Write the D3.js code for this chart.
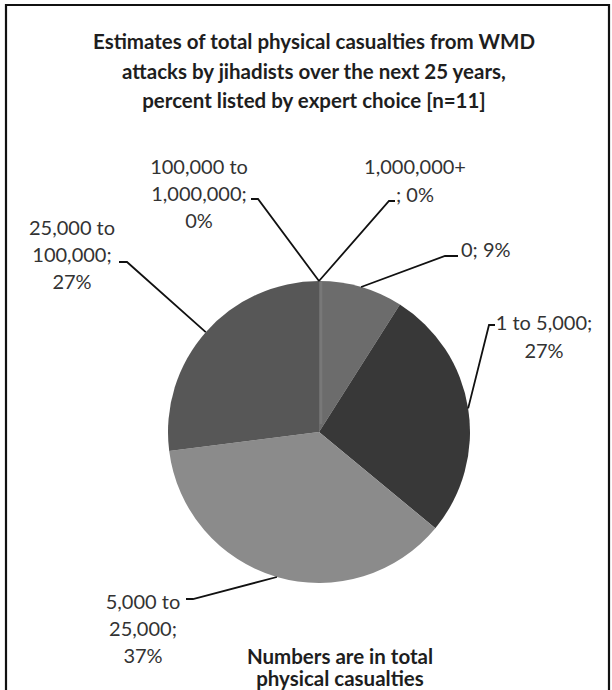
<!DOCTYPE html>
<html><head><meta charset="utf-8">
<script src="https://cdn.jsdelivr.net/npm/d3@7/dist/d3.min.js"></script>
<style>body{margin:0;background:#fff}svg{display:block}</style>
</head><body>
<svg id="chart" width="612" height="690"></svg>
<script>
// ---- data ----
const categories = ["0", "1 to 5,000", "5,000 to 25,000", "25,000 to 100,000", "100,000 to 1,000,000", "1,000,000+"];
const percents = [9, 27, 37, 27, 0, 0];
const labelLines = [
  ["0; 9%"],
  ["1 to 5,000;", "27%"],
  ["5,000 to", "25,000;", "37%"],
  ["25,000 to", "100,000;", "27%"],
  ["100,000 to", "1,000,000;", "0%"],
  ["1,000,000+", "; 0%"]
];
const titleLines = ["Estimates of total physical casualties from WMD", "attacks by jihadists over the next 25 years,", "percent listed by expert choice [n=11]"];
const noteLines = ["Numbers are in total", "physical casualties"];

// ---- layout / style ----
const W = 612, H = 690;
const cx = 319, cy = 432, R = 151;
const colors = ["#6c6c6c", "#383838", "#8b8b8b", "#575757", "#7a7a7a", "#7a7a7a"];
const labelFont = "Lato, 'Open Sans', sans-serif";
const labelLayout = [
  {x: 461, y: 257, lh: 27, anchor: "start", elbow: [445, 256], stub: [458, 256]},
  {x: 544, y: 330, lh: 28, anchor: "middle", elbow: [489, 325], stub: [495, 325]},
  {x: 143, y: 609, lh: 27, anchor: "middle", elbow: [193, 599], stub: [186, 599]},
  {x: 72,  y: 235, lh: 27, anchor: "middle", elbow: [127, 262], stub: [119, 262]},
  {x: 199, y: 174, lh: 27, anchor: "middle", elbow: [258, 199], stub: [251, 199]},
  {x: 415, y: 174, lh: 28, anchor: "middle", elbow: [389, 201], stub: [395, 201]}
];

const svg = d3.select("#chart");
svg.append("rect").attr("width", W).attr("height", H).attr("fill", "#fff");

// frame
const frame = d3.path();
frame.moveTo(6, H); frame.lineTo(6, 5); frame.lineTo(609, 5); frame.lineTo(609, H);
svg.append("path").attr("d", frame.toString()).attr("fill", "none").attr("stroke", "#111").attr("stroke-width", 2.2);

// title
svg.append("g").selectAll("text").data(titleLines).join("text")
  .attr("x", 314).attr("y", (d, i) => 49 + i * 29.5)
  .attr("text-anchor", "middle")
  .attr("font-family", labelFont).attr("font-weight", "bold").attr("font-size", 20.5)
  .attr("fill", "#1e1e1e").text(d => d);

// pie
const pie = d3.pie().sort(null).value(d => d).startAngle(0).endAngle(2 * Math.PI);
const arcs = pie(percents);
const arc = d3.arc().innerRadius(0).outerRadius(R);
const g = svg.append("g").attr("transform", `translate(${cx},${cy})`);
g.selectAll("path").data(arcs).join("path")
  .attr("d", arc).attr("fill", (d, i) => colors[i]);
g.append("line").attr("x1", 2).attr("y1", -R + 1).attr("x2", 2).attr("y2", -8)
  .attr("stroke", "#787878").attr("stroke-width", 2.5);

// leader lines
const edgePoint = d => {
  const a = (d.startAngle + d.endAngle) / 2;
  return [cx + R * Math.sin(a), cy - R * Math.cos(a)];
};
svg.append("g").selectAll("path").data(arcs).join("path")
  .attr("d", (d, i) => {
    const p = d3.path();
    const e = edgePoint(d);
    p.moveTo(e[0], e[1]);
    p.lineTo(labelLayout[i].elbow[0], labelLayout[i].elbow[1]);
    p.lineTo(labelLayout[i].stub[0], labelLayout[i].stub[1]);
    return p.toString();
  })
  .attr("fill", "none").attr("stroke", "#111").attr("stroke-width", 1.8);

// labels
labelLines.forEach((lines, i) => {
  const L = labelLayout[i];
  svg.append("g").selectAll("text").data(lines).join("text")
    .attr("x", L.x).attr("y", (d, j) => L.y + j * L.lh)
    .attr("text-anchor", L.anchor)
    .attr("font-family", labelFont).attr("font-size", 20)
    .attr("fill", "#333").text(d => d);
});

// note
svg.append("g").selectAll("text").data(noteLines).join("text")
  .attr("x", 340).attr("y", (d, i) => 664 + i * 22)
  .attr("text-anchor", "middle")
  .attr("font-family", labelFont).attr("font-weight", "bold").attr("font-size", 20.5)
  .attr("fill", "#1e1e1e").text(d => d);
</script>
</body></html>
